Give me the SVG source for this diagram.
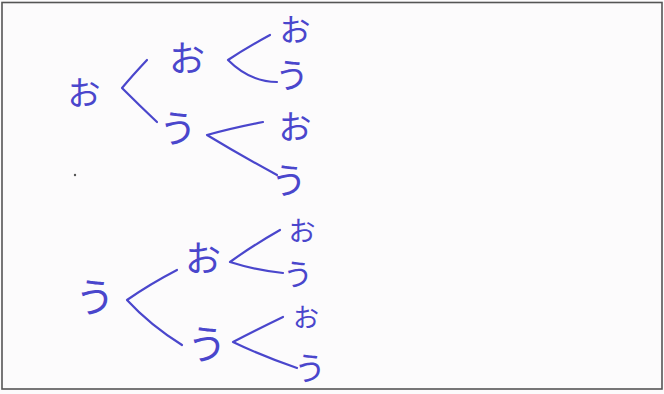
<svg xmlns="http://www.w3.org/2000/svg" width="664" height="394" viewBox="0 0 664 394">
<style>
.k{font-family:"Noto Sans CJK JP","Noto Sans CJK SC",sans-serif;fill:#4a46cc;text-anchor:middle;dominant-baseline:central;font-weight:400}
.c{fill:none;stroke:#4a46cc;stroke-width:2.2;stroke-linecap:round;stroke-linejoin:round}
</style>
<rect x="0" y="0" width="664" height="394" fill="#fcfbfc"/>
<rect x="2" y="2.5" width="660" height="386.5" fill="none" stroke="#555" stroke-width="1.6"/>
<g id="connectors">
<path class="c" d="M147,60 Q132,76 122,88 Q140,106 157,122"/>
<path class="c" d="M270,35 Q246,48 228,60 Q250,82 277,82"/>
<path class="c" d="M263,122 Q232,128 207,135 Q240,155 277,175"/>
<path class="c" d="M177,270 Q150,284 127,300 Q150,325 182,345"/>
<path class="c" d="M280,230 Q252,246 230,262 Q255,270 283,273"/>
<path class="c" d="M283,317 Q256,330 233,342 Q262,356 297,368"/>
</g>
<g id="n1"><text class="k" x="84" y="91" font-size="33">お</text></g>
<g id="n2"><text class="k" x="187" y="56" font-size="36">お</text></g>
<g id="n3"><text class="k" x="178" y="125" font-size="38">う</text></g>
<g id="n4"><text class="k" x="295" y="27" font-size="31">お</text></g>
<g id="n5"><text class="k" x="292" y="73" font-size="34">う</text></g>
<g id="n6"><text class="k" x="295" y="125" font-size="33">お</text></g>
<g id="n7"><text class="k" x="289" y="178" font-size="36">う</text></g>
<g id="n8"><text class="k" x="95" y="295" font-size="40">う</text></g>
<g id="n9"><text class="k" x="203" y="256" font-size="36">お</text></g>
<g id="n10"><text class="k" x="207" y="342" font-size="40">う</text></g>
<g id="n11"><text class="k" x="302" y="229" font-size="27">お</text></g>
<g id="n12"><text class="k" x="298" y="272" font-size="30">う</text></g>
<g id="n13"><text class="k" x="306" y="315" font-size="26">お</text></g>
<g id="n14"><text class="k" x="310" y="366" font-size="32">う</text></g>
<circle cx="75" cy="175" r="1.2" fill="#555"/>
</svg>
